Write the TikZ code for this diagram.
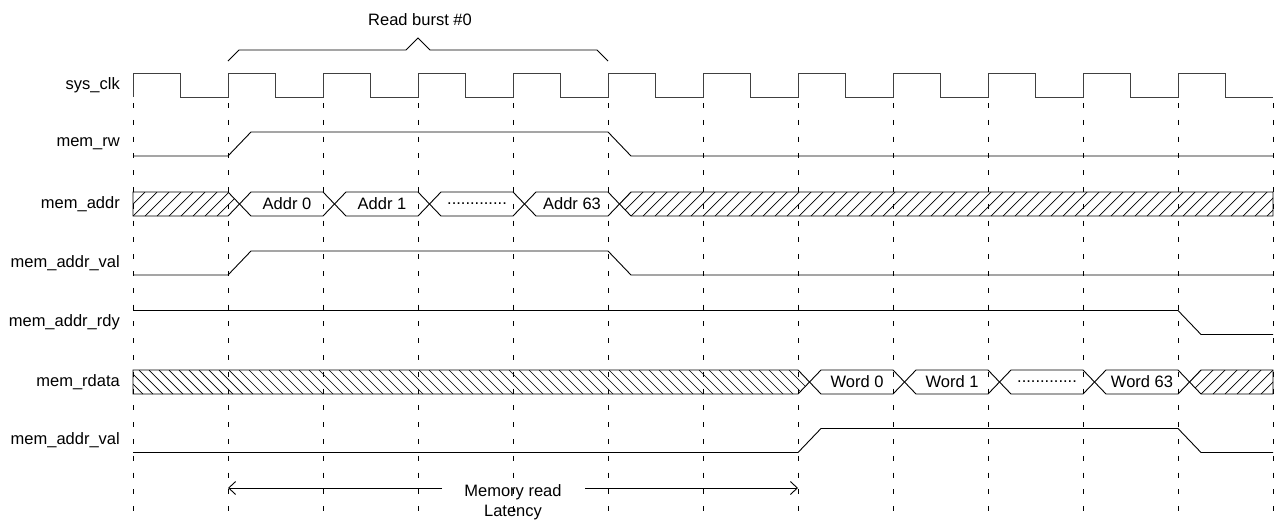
\documentclass[tikz,border=0pt]{standalone}
\usepackage{fontspec}
\setmainfont{Liberation Sans}
\usetikzlibrary{arrows.meta}
\newcommand{\busbox}[5]{%
  \draw[sig] ({#1+11.5},{#3}) -- ({#1+23},{#3-12}) -- ({#2},{#3-12}) -- ({#2+11.5},{#3}) -- ({#2},{#3+12}) -- ({#1+23},{#3+12}) -- cycle;
  \node[txt] (#4) at ({(#1+#2)/2+11.5},{#3}) {#5};}
\begin{document}
\begin{tikzpicture}[x=1pt,y=-1pt,
  sig/.style={line width=0.9pt, line join=miter},
  clk/.style={line width=1pt, draw=black!75},
  gridline/.style={line width=0.9pt, dash pattern=on 5pt off 11.8pt},
  hatch/.style={line width=0.7pt},
  lbl/.style={anchor=east, inner sep=0pt, font=\fontsize{16.5}{20}\selectfont},
  txt/.style={inner sep=0pt, font=\fontsize{16.5}{20}\selectfont},
  lat/.style={line width=0.9pt, -{Straight Barb[length=7pt,width=13pt]}}
]
\useasboundingbox (0,0) rectangle (1276,520);

% labels
\node[lbl] (l-clk) at (120,85) {sys\_clk};
\node[lbl] (l-rw) at (120,144) {mem\_rw};
\node[lbl] (l-addr) at (120,204) {mem\_addr};
\node[lbl] (l-aval) at (120,263) {mem\_addr\_val};
\node[lbl] (l-ardy) at (120,322.5) {mem\_addr\_rdy};
\node[lbl] (l-rdata) at (120,382) {mem\_rdata};
\node[lbl] (l-aval2) at (120,440.5) {mem\_addr\_val};

% grid
\foreach \k in {0,...,12} \draw[gridline] ({133+95*\k},103) -- ({133+95*\k},513);

% clock
\draw[clk] (133,97) \foreach \k in {0,...,11} { -- ++(0,-24) -- ++(47.5,0) -- ++(0,24) -- ++(47.5,0) };

% brace
\node[txt] (burst) at (420,20) {Read burst \#0};
\draw[sig] (228,61) -- (239,50) -- (406,50) -- (418,38) -- (430,50) -- (597,50) -- (608,61);

% mem_rw
\draw[sig] (133,156) -- (228,156) -- (251,132) -- (608,132) -- (631,156) -- (1273,156);

% mem_addr
\begin{scope}
\clip (133,192) -- (228,192) -- (239.5,204) -- (228,216) -- (133,216) -- cycle;
\foreach \x in {109,121,...,241} \draw[hatch] (\x,216) -- ({\x+24},192);
\end{scope}
\draw[sig] (133,192) -- (228,192) -- (239.5,204) -- (228,216) -- (133,216) -- cycle;
\busbox{228}{323}{204}{a0}{Addr 0}
\busbox{323}{418}{204}{a1}{Addr 1}
\busbox{418}{513}{204}{adots}{.............}
\busbox{513}{608}{204}{a63}{Addr 63}
\begin{scope}
\clip (619.5,204) -- (631,192) -- (1273,192) -- (1273,216) -- (631,216) -- cycle;
\foreach \x in {595,607,...,1285} \draw[hatch] (\x,216) -- ({\x+24},192);
\end{scope}
\draw[sig] (619.5,204) -- (631,192) -- (1273,192) -- (1273,216) -- (631,216) -- cycle;

% mem_addr_val
\draw[sig] (133,275) -- (228,275) -- (251,251) -- (608,251) -- (631,275) -- (1273,275);

% mem_addr_rdy
\draw[sig] (133,310.5) -- (1178,310.5) -- (1201,334.5) -- (1273,334.5);

% mem_rdata
\begin{scope}
\clip (133,370) -- (798,370) -- (809.5,382) -- (798,394) -- (133,394) -- cycle;
\foreach \x in {109,119,...,819} \draw[hatch] (\x,370) -- ({\x+24},394);
\end{scope}
\draw[sig] (133,370) -- (798,370) -- (809.5,382) -- (798,394) -- (133,394) -- cycle;
\busbox{798}{893}{382}{w0}{Word 0}
\busbox{893}{988}{382}{w1}{Word 1}
\busbox{988}{1083}{382}{wdots}{.............}
\busbox{1083}{1178}{382}{w63}{Word 63}
\begin{scope}
\clip (1189.5,382) -- (1201,370) -- (1273,370) -- (1273,394) -- (1201,394) -- cycle;
\foreach \x in {1177,1189,...,1285} \draw[hatch] (\x,394) -- ({\x+24},370);
\end{scope}
\draw[sig] (1189.5,382) -- (1201,370) -- (1273,370) -- (1273,394) -- (1201,394) -- cycle;

% mem_addr_val (2)
\draw[sig] (133,452.5) -- (798,452.5) -- (821,428.5) -- (1178,428.5) -- (1201,452.5) -- (1273,452.5);

% latency
\node[txt, align=center] (latency) at (513,502) {Memory read\\Latency};
\coordinate (latLs) at (442,488);
\coordinate (latRs) at (585,488);
\coordinate (latL) at (228,488);
\coordinate (latR) at (798,488);
\draw[lat] (latLs) -- (latL);
\draw[lat] (latRs) -- (latR);
\end{tikzpicture}
\end{document}
